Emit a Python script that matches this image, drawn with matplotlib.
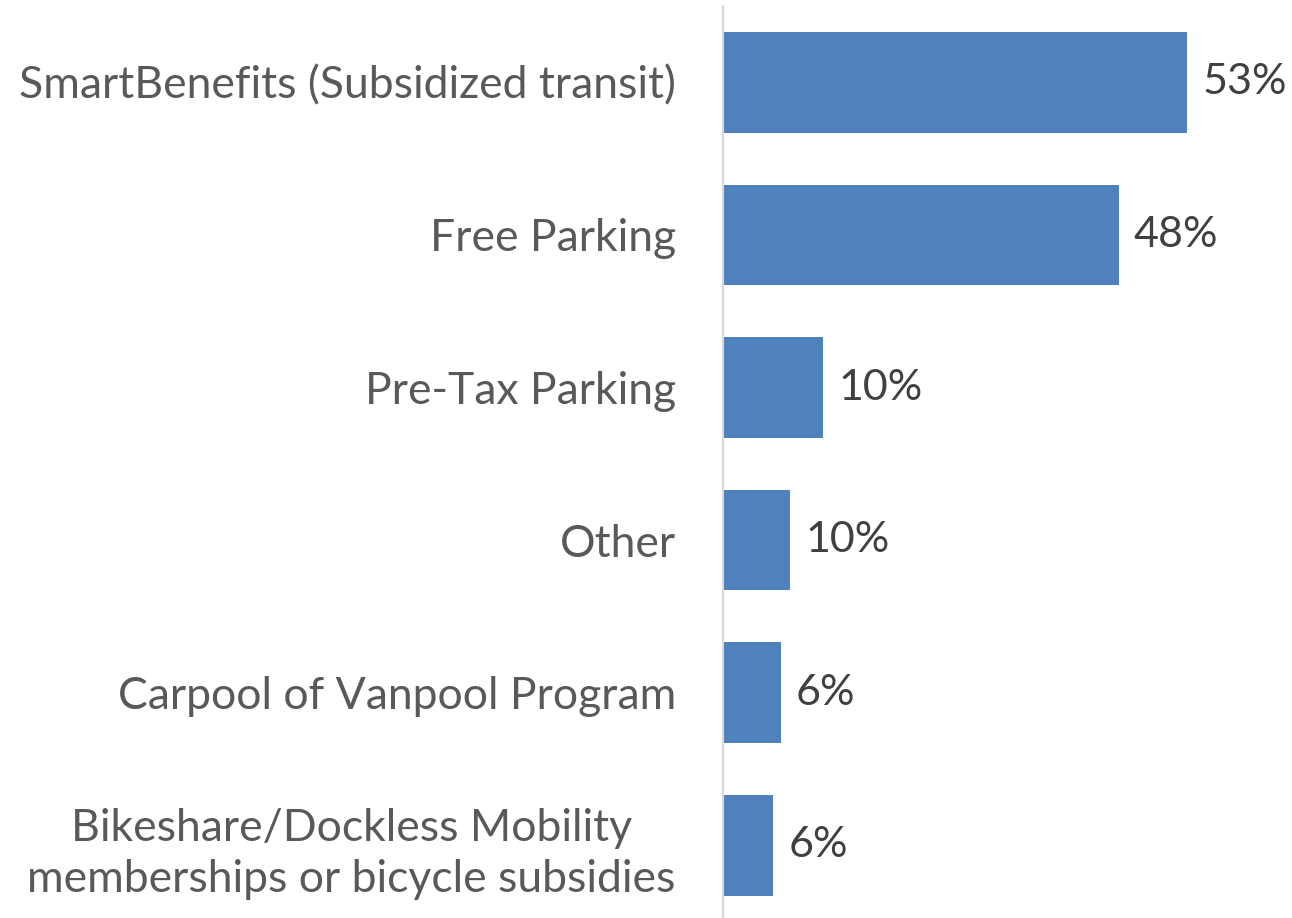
import matplotlib
matplotlib.use("Agg")
import matplotlib.pyplot as plt

# categories top -> bottom, bar lengths, printed labels
categories = [
    "SmartBenefits (Subsidized transit)",
    "Free Parking",
    "Pre-Tax Parking",
    "Other",
    "Carpool of Vanpool Program",
    "Bikeshare/Dockless Mobility\nmemberships or bicycle subsidies",
]
values = [53.0, 45.2, 11.4, 7.7, 6.6, 5.7]
value_labels = ["53%", "48%", "10%", "10%", "6%", "6%"]

BAR = "#4F81BD"
TXT = "#595959"
LBL = "#404040"
W, H = 1292, 918

plt.rcParams["font.family"] = ["Lato", "DejaVu Sans"]
fig = plt.figure(figsize=(W / 100, H / 100), dpi=100)
ax = fig.add_axes([723 / W, -3.6 / H, (W - 723) / W, 915.6 / H])

ys = list(range(len(categories)))
ax.barh(ys, values, height=0.66, color=BAR)
for y, v, t in zip(ys, values, value_labels):
    ax.annotate(t, (v, y), xytext=(11, 0), textcoords="offset points",
                va="center", ha="left", fontsize=31, color=LBL)

ax.set_ylim(len(categories) - 0.5, -0.5)
ax.set_xlim(0, 65)
ax.set_yticks(ys)
ax.set_yticklabels(categories, fontsize=32, color=TXT, multialignment="center",
                   linespacing=1.3)
ax.tick_params(axis="y", length=0, pad=34)
ax.set_xticks([])
for s in ["top", "right", "bottom"]:
    ax.spines[s].set_visible(False)
ax.spines["left"].set_color("#D9D9D9")
ax.spines["left"].set_linewidth(1.5)

fig.savefig("out.png", dpi=100)
